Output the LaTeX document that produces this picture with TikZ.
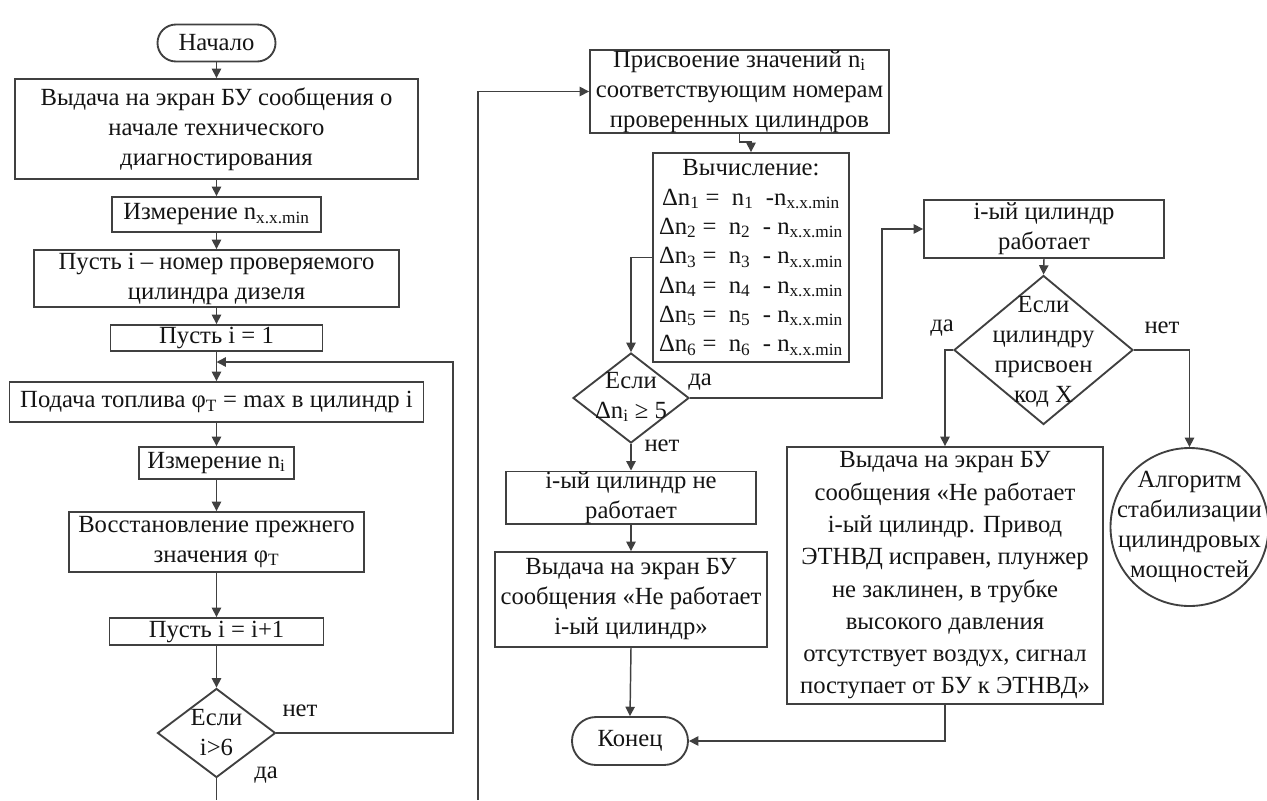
\documentclass[tikz,border=0pt]{standalone}
\usepackage{fontspec}
\setmainfont{Liberation Serif}
\usetikzlibrary{shapes.geometric,arrows.meta}
\begin{document}
\begin{tikzpicture}[x=0.75pt,y=-0.75pt,
  every node/.style={font=\fontsize{18.5pt}{22.5pt}\selectfont, text=black!92},
  box/.style={draw=black!75, line width=1.4pt, inner sep=0pt, align=center},
  term/.style={box, rounded corners=#1},
  dia/.style={draw=black!75, line width=1.4pt, diamond, inner sep=0pt},
  txt/.style={align=center, inner sep=0pt},
  arr/.style={draw=black!75, line width=1.1pt, -{Triangle[length=7pt,width=7pt]}},
  ln/.style={draw=black!75, line width=1.1pt},
  lab/.style={inner sep=0pt}]
\useasboundingbox (0,0) rectangle (1267,800);

% left column
\node[term=13.8pt, minimum width=88.5pt, minimum height=27.75pt] (start) at (216.5,43) {Начало};
\node[box, minimum width=302.25pt, minimum height=75pt] (b1) at (216.5,129)
  {Выдача на экран БУ сообщения о\\начале технического\\диагностирования};
\node[box, minimum width=156.75pt, minimum height=26.25pt] (b2) at (216.5,214.5)
  {Измерение n\textsubscript{x.x.min}};
\node[box, minimum width=273.75pt, minimum height=42.75pt] (b3) at (216.5,278.5)
  {Пусть i – номер проверяемого\\цилиндра дизеля};
\node[box, minimum width=159pt, minimum height=19.5pt] (b4) at (216.5,338) {Пусть i = 1};
\node[box, minimum width=310.5pt, minimum height=30pt] (b5) at (216.5,402)
  {Подача топлива φ\textsubscript{T} = max в цилиндр i};
\node[box, minimum width=116.25pt, minimum height=24pt] (b6) at (216.5,463)
  {Измерение n\textsubscript{i}};
\node[box, minimum width=221.25pt, minimum height=45pt] (b7) at (216.5,542)
  {Восстановление прежнего\\значения φ\textsubscript{T}};
\node[box, minimum width=160.5pt, minimum height=20.25pt] (b8) at (216.5,631.5) {Пусть i = i+1};
\node[dia, minimum width=88.5pt, minimum height=66.75pt] (d1) at (216.5,733) {};
\node[txt] (d1t) at (216.5,733) {Если\\i>6};

% middle column
\node[box, minimum width=224.25pt, minimum height=62.25pt] (m1) at (739.5,91.5)
  {Присвоение значений n\textsubscript{i}\\соответствующим номерам\\проверенных цилиндров};
\node[box, minimum width=147pt, minimum height=156.75pt, font=\fontsize{18.5pt}{22pt}\selectfont] (m2) at (751,257.5)
  {Вычисление:\\
   Δn\textsubscript{1} =~ n\textsubscript{1} ~-n\textsubscript{x.x.min}\\
   Δn\textsubscript{2} =~ n\textsubscript{2} ~- n\textsubscript{x.x.min}\\
   Δn\textsubscript{3} =~ n\textsubscript{3} ~- n\textsubscript{x.x.min}\\
   Δn\textsubscript{4} =~ n\textsubscript{4} ~- n\textsubscript{x.x.min}\\
   Δn\textsubscript{5} =~ n\textsubscript{5} ~- n\textsubscript{x.x.min}\\
   Δn\textsubscript{6} =~ n\textsubscript{6} ~- n\textsubscript{x.x.min}};
\node[dia, minimum width=87pt, minimum height=67.5pt] (d2) at (631,398) {};
\node[txt] (d2t) at (631,397) {Если\\Δn\textsubscript{i} ≥ 5};
\node[box, minimum width=187.5pt, minimum height=36.75pt] (m3) at (631,497.5)
  {i-ый цилиндр не\\работает};
\node[box, minimum width=204pt, minimum height=71.25pt] (m4) at (631,599.5)
  {Выдача на экран БУ\\сообщения «Не работает\\i-ый цилиндр»};
\node[term=18pt, minimum width=87pt, minimum height=36pt] (end) at (630,741) {Конец};

% right column
\node[box, minimum width=180pt, minimum height=43.5pt] (r1) at (1044,229)
  {i-ый цилиндр\\работает};
\node[dia, minimum width=134.25pt, minimum height=111.75pt] (d3) at (1043.5,350) {};
\node[txt] (d3t) at (1043.5,352) {Если\\цилиндру\\присвоен\\код X};
\node[box, minimum width=237pt, minimum height=192.75pt, font=\fontsize{18.5pt}{24.2pt}\selectfont] (r2) at (945,575.5)
  {Выдача на экран БУ\\сообщения «Не работает\\i-ый цилиндр. Привод\\ЭТНВД исправен, плунжер\\не заклинен, в трубке\\высокого давления\\отсутствует воздух, сигнал\\поступает от БУ к ЭТНВД»};
\node[draw=black!75, line width=1.4pt, circle, inner sep=0pt, minimum size=118.5pt] (c) at (1189.5,527) {};
\node[txt] (ct) at (1189.5,527) {Алгоритм\\стабилизации\\цилиндровых\\мощностей};

% labels
\node[lab] (l1) at (300,711) {нет};
\node[lab] (l2) at (266,775) {да};
\node[lab] (l3) at (700,382) {да};
\node[lab] (l4) at (662,446) {нет};
\node[lab] (l5) at (942,328) {да};
\node[lab] (l6) at (1162,328) {нет};

% coordinates
\coordinate (lp) at (453,733);
\coordinate (lj) at (216.5,362);
\coordinate (d1b) at (216.5,800);
\coordinate (lb) at (478,800);
\coordinate (j2) at (882,229);

% connectors left
\draw[arr] (start.south) -- (b1.north);
\draw[arr] (b1.south) -- (b2.north);
\draw[arr] (b2.south) -- (b3.north);
\draw[arr] (b3.south) -- (b4.north);
\draw[arr] (b4.south) -- (b5.north);
\draw[arr] (b5.south) -- (b6.north);
\draw[arr] (b6.south) -- (b7.north);
\draw[arr] (b7.south) -- (b8.north);
\draw[arr] (b8.south) -- (d1.north);
\draw[arr] (d1.east) -- (lp) |- (lj);
\draw[ln] (d1.south) -- (d1b);
\draw[arr] (lb) |- (m1.west);

% connectors middle
\draw[arr] (m1.south) -- ++(0,8) -| (m2.north);
\draw[arr] (m2.west) -| (d2.north);
\draw[arr] (d2.south) -- (m3.north);
\draw[arr] (m3.south) -- (m4.north);
\draw[arr] (m4.south) -- (end.north);
\draw[arr] (d2.east) -| (j2) -- (r1.west);

% connectors right
\draw[arr] (r1.south) -- (d3.north);
\draw[arr] (d3.west) -| (r2.north);
\draw[arr] (d3.east) -| (c.north);
\draw[arr] (r2.south) |- (end.east);
\end{tikzpicture}
\end{document}
